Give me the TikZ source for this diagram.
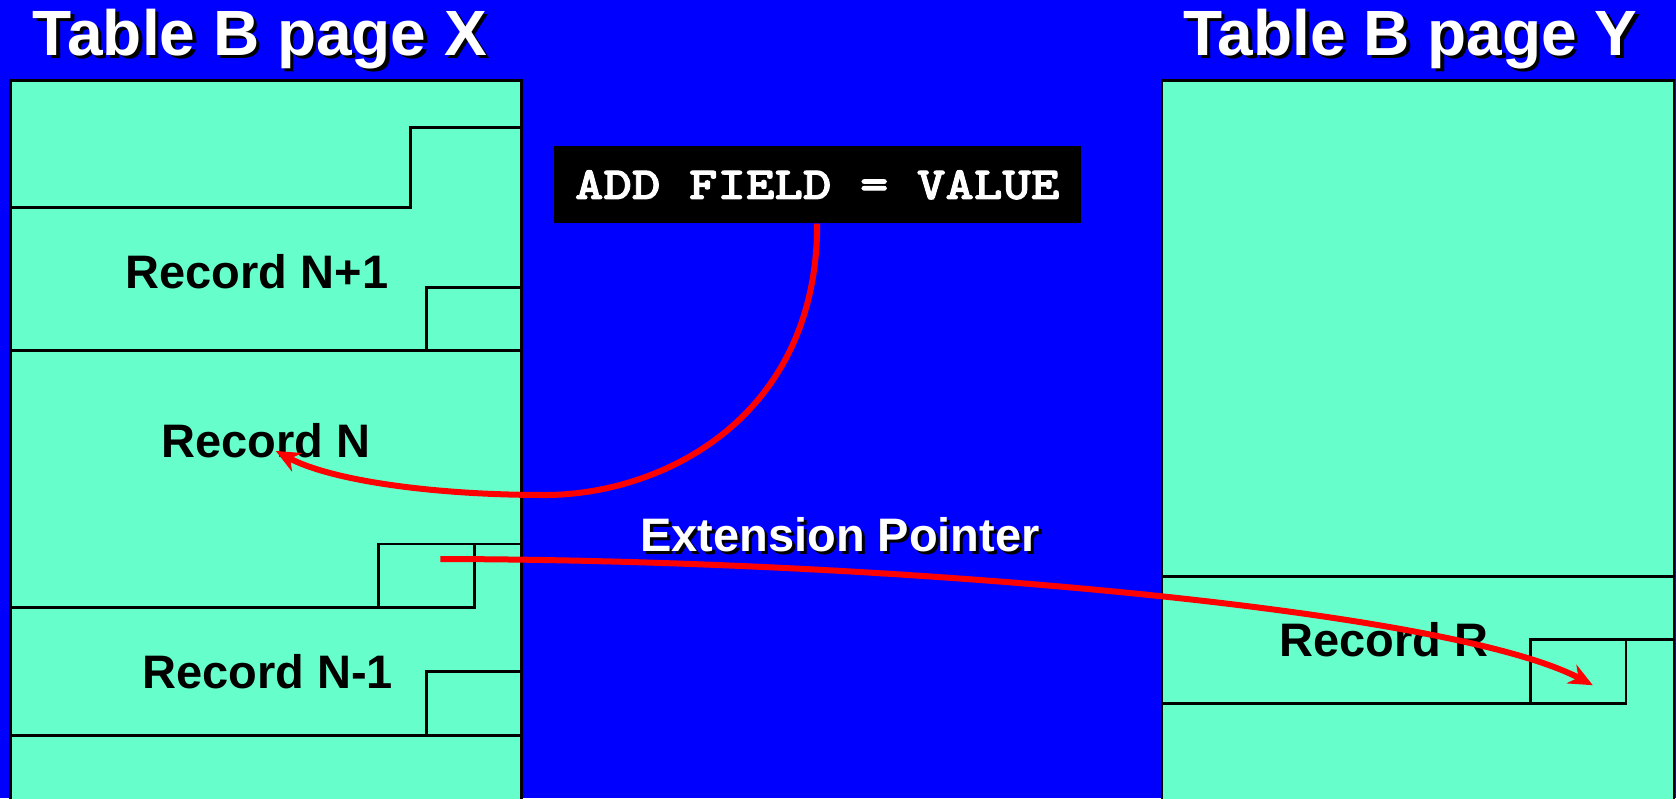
\documentclass[tikz,border=0pt]{standalone}
\usepackage{fontspec}
\setmainfont{Liberation Sans}
\newfontfamily\codefont{lmmonolt10-bold.otf}[FakeStretch=1.18, FakeBold=2]
\definecolor{slideblue}{RGB}{0,0,255}
\definecolor{pagegreen}{RGB}{102,255,204}
\definecolor{ptrred}{RGB}{255,0,0}
\usetikzlibrary{arrows.meta,positioning}

\tikzset{
  pageline/.style={draw=black, line width=2.6pt},
  titletext/.style={font=\bfseries\fontsize{64}{64}\selectfont, anchor=base, inner sep=0pt},
  reclabel/.style={font=\bfseries\fontsize{47}{47}\selectfont, text=black, anchor=base, inner sep=0pt},
  ptrarrow/.style={-{Stealth[length=24pt,width=21pt]}, draw=ptrred, line width=6pt}
}

\begin{document}
\begin{tikzpicture}[x=1pt, y=-1pt]
  \useasboundingbox (0,0) rectangle (1676,798);
  \fill[slideblue] (0,0) rectangle (1676,798);
  % Page X
  \draw[pageline, fill=pagegreen] (10.7,80.2) rectangle (521.6,812);
  \draw[pageline] (10.7,207.4) -| (410.5,127.2) -- (521.6,127.2);
  \draw[pageline] (10.7,350.6) -- (521.6,350.6);
  \draw[pageline] (426.5,350.6) |- (521.6,287.5);
  \draw[pageline] (10.7,607.2) -- (474.6,607.2) -- (474.6,544) -- (521.6,544);
  \draw[pageline] (378.4,607.2) |- (474.6,544);
  \draw[pageline] (10.7,735.4) -- (521.6,735.4);
  \draw[pageline] (426.5,735.4) |- (521.6,671.3);
  % Page Y
  \draw[pageline, fill=pagegreen] (1162,80.2) rectangle (1674,812);
  \draw[pageline] (1162,576.2) -- (1674,576.2);
  \draw[pageline] (1162,703.4) -- (1626,703.4) -- (1626,639.2) -- (1674,639.2);
  \draw[pageline] (1530.7,703.4) |- (1626,639.2);
  % Titles
  \node[titletext, text=black] (titleXshadow) at (263.5,58.5) {Table B page X};
  \node[titletext, text=white] (titleX) at (260,55) {Table B page X};
  \node[titletext, text=black] (titleYshadow) at (1414,58.5) {Table B page Y};
  \node[titletext, text=white] (titleY) at (1410.5,55) {Table B page Y};
  % Records
  \node[reclabel] (recNplus) at (257,288.3) {Record N+1};
  \node[reclabel] (recN) at (266,457.7) {Record N};
  \node[reclabel] (recNminus) at (267.8,688.3) {Record N-1};
  \node[reclabel] (recR) at (1383.7,656) {Record R};
  % Command
  \node[fill=black, text=white, minimum width=527pt, minimum height=77pt, inner sep=0pt, font=\codefont\fontsize{46}{46}\selectfont] (addfield) at (817.2,184.9) {ADD FIELD = VALUE};
  % Extension pointer
  \node[reclabel, text=black] (extshadow) at (843,554) {Extension Pointer};
  \node[reclabel, text=white] (ext) at (840,551) {Extension Pointer};
  \coordinate (fieldend) at (275.8,451);
  \coordinate (ptrstart) at (440.4,559);
  \coordinate (ptrend) at (1592.8,685.2);
  % Arrows
  \draw[ptrarrow] (addfield.south) .. controls (817,420) and (660,495) .. (545,495) .. controls (430,495) and (330,480) .. (fieldend);
  \draw[ptrarrow] (ptrstart) .. controls (900,560) and (1450,610) .. (ptrend);
\end{tikzpicture}
\end{document}
